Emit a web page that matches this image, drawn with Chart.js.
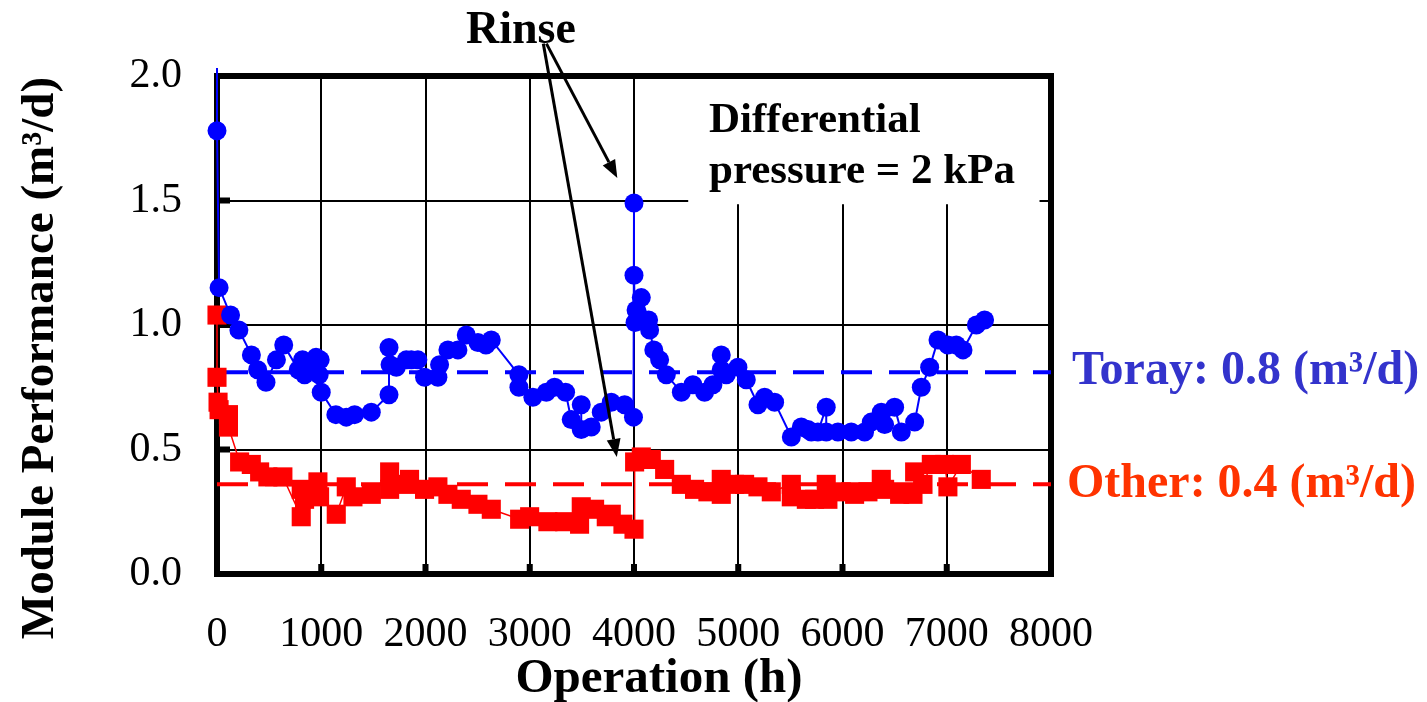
<!DOCTYPE html>
<html>
<head>
<meta charset="utf-8">
<script src="https://cdn.jsdelivr.net/npm/chart.js@4.4.1/dist/chart.umd.min.js"></script>
<style>
  body { margin: 0; background: #fff; }
  #wrap { width: 1427px; height: 702px; }
</style>
</head>
<body>
<div id="wrap"><canvas id="perf" width="1427" height="702"></canvas></div>
<script>
// Toray module: operating hours vs module performance (m3/d)
const torayHours = [0, 0, 20, 130, 210, 330, 390, 470, 570, 640, 780, 820, 840, 900, 950, 980, 990, 1000,
  1140, 1240, 1320, 1480, 1650, 1650, 1660, 1720, 1816, 1864, 1927, 1991, 2119, 2135, 2215, 2311, 2391,
  2503, 2580, 2631, 2896, 2896, 3030, 3159, 3238, 3344, 3398, 3494, 3494, 3590, 3686, 3782, 3910, 3995,
  4000, 4000, 4010, 4020, 4070, 4140, 4150, 4190, 4246, 4310, 4454, 4565, 4677, 4757, 4837, 4837, 4885,
  4997, 5077, 5189, 5253, 5349, 5509, 5605, 5668, 5701, 5764, 5844, 5844, 5956, 6084, 6212, 6276, 6372,
  6404, 6500, 6564, 6692, 6756, 6836, 6916, 7011, 7092, 7156, 7284, 7363];
const torayFlow = [2.3, 1.78, 1.15, 1.04, 0.98, 0.88, 0.82, 0.77, 0.86, 0.92, 0.82, 0.86, 0.80, 0.84, 0.87, 0.80, 0.86, 0.73,
  0.64, 0.63, 0.64, 0.65, 0.72, 0.91, 0.84, 0.83, 0.86, 0.86, 0.86, 0.79, 0.79, 0.84, 0.90, 0.90, 0.96,
  0.93, 0.92, 0.94, 0.80, 0.75, 0.71, 0.73, 0.75, 0.73, 0.62, 0.68, 0.58, 0.59, 0.65, 0.69, 0.68, 0.63,
  1.49, 1.20, 1.01, 1.06, 1.11, 1.02, 0.98, 0.90, 0.86, 0.80, 0.73, 0.76, 0.73, 0.76, 0.88, 0.82, 0.80,
  0.83, 0.78, 0.68, 0.71, 0.69, 0.55, 0.59, 0.58, 0.57, 0.57, 0.67, 0.57, 0.57, 0.57, 0.57, 0.61, 0.65,
  0.60, 0.67, 0.57, 0.61, 0.75, 0.83, 0.94, 0.92, 0.92, 0.90, 1.00, 1.02];

// other maker's module
const otherHours = [0, 0, 10, 20, 110, 110, 217, 329, 409, 488, 632, 808, 808, 840, 968, 984, 1144, 1240,
  1304, 1480, 1656, 1656, 1816, 1847, 1991, 2119, 2215, 2343, 2503, 2631, 2903, 2999, 3174, 3334, 3478,
  3494, 3622, 3734, 3782, 3894, 4000, 4006, 4070, 4166, 4294, 4454, 4581, 4709, 4837, 4837, 4965, 5061,
  5189, 5317, 5509, 5509, 5653, 5732, 5844, 5860, 5988, 6116, 6244, 6372, 6404, 6548, 6676, 6692, 6772,
  6852, 6980, 7011, 7140, 7331];
const otherFlow = [1.04, 0.79, 0.69, 0.66, 0.64, 0.59, 0.45, 0.44, 0.41, 0.39, 0.39, 0.23, 0.34, 0.30, 0.37, 0.31, 0.24, 0.35,
  0.31, 0.32, 0.41, 0.34, 0.36, 0.38, 0.34, 0.35, 0.32, 0.30, 0.28, 0.26, 0.22, 0.23, 0.21, 0.21, 0.20,
  0.27, 0.26, 0.23, 0.24, 0.20, 0.18, 0.45, 0.47, 0.46, 0.42, 0.36, 0.34, 0.33, 0.38, 0.32, 0.36, 0.36,
  0.35, 0.33, 0.36, 0.31, 0.30, 0.30, 0.36, 0.30, 0.33, 0.32, 0.33, 0.38, 0.34, 0.32, 0.32, 0.41, 0.36,
  0.44, 0.44, 0.35, 0.44, 0.38];

// average performance lines
const torayAvg = 0.81;
const otherAvg = 0.36;
const hourRange = [0, 8000];

const serif = '"Liberation Serif", "Times New Roman", serif';

function pts(xs, ys) {
  return xs.map((x, i) => ({ x: x, y: ys[i] }));
}

function arrow(ctx, x1, y1, x2, y2) {
  const ang = Math.atan2(y2 - y1, x2 - x1);
  const len = 18, half = 7;
  const bx = x2 - len * Math.cos(ang), by = y2 - len * Math.sin(ang);
  ctx.beginPath();
  ctx.moveTo(x1, y1);
  ctx.lineTo(bx, by);
  ctx.stroke();
  ctx.beginPath();
  ctx.moveTo(x2, y2);
  ctx.lineTo(bx + half * Math.sin(ang), by - half * Math.cos(ang));
  ctx.lineTo(bx - half * Math.sin(ang), by + half * Math.cos(ang));
  ctx.closePath();
  ctx.fill();
}

const decor = {
  id: 'decor',
  beforeDatasetsDraw(chart) {
    const { ctx, chartArea: a, scales: { x, y } } = chart;
    ctx.save();
    // blank patch behind the condition note
    const bx1 = x.getPixelForValue(4520), bx2 = x.getPixelForValue(7890);
    ctx.fillStyle = '#fff';
    ctx.fillRect(bx1, a.top, bx2 - bx1, y.getPixelForValue(1.485) - a.top);
    // inner tick marks
    ctx.fillStyle = '#000';
    for (let v = 1000; v < 8000; v += 1000) {
      ctx.fillRect(x.getPixelForValue(v) - 3, a.bottom - 10, 6, 10);
    }
    for (let v = 0.5; v < 2; v += 0.5) {
      ctx.fillRect(a.left, y.getPixelForValue(v) - 3, 13, 6);
    }
    // plot frame
    ctx.strokeStyle = '#000';
    ctx.lineWidth = 6;
    ctx.strokeRect(a.left, a.top, a.right - a.left, a.bottom - a.top);
    ctx.restore();
  },
  afterDraw(chart) {
    const { ctx, chartArea: a, scales: { x, y } } = chart;
    ctx.save();
    ctx.fillStyle = '#000';
    ctx.textBaseline = 'alphabetic';

    // axis titles
    ctx.font = 'bold 49px ' + serif;
    ctx.textAlign = 'center';
    ctx.fillText('Operation (h)', 659, 692);
    ctx.save();
    ctx.translate(53, 358);
    ctx.rotate(-Math.PI / 2);
    ctx.font = 'bold 47px ' + serif;
    ctx.fillText('Module Performance (m³/d)', 0, 0);
    ctx.restore();

    // test condition
    ctx.textAlign = 'left';
    ctx.font = 'bold 43px ' + serif;
    ctx.fillText('Differential', 709, 132);
    ctx.fillText('pressure = 2 kPa', 709, 183);

    // rinse annotation
    ctx.font = 'bold 46px ' + serif;
    ctx.fillText('Rinse', 466, 43);
    ctx.lineWidth = 3;
    ctx.strokeStyle = '#000';
    arrow(ctx, x.getPixelForValue(3160), y.getPixelForValue(2.13),
      x.getPixelForValue(3840), y.getPixelForValue(1.59));
    arrow(ctx, x.getPixelForValue(3130), y.getPixelForValue(2.13),
      x.getPixelForValue(3835), y.getPixelForValue(0.47));

    // average labels
    ctx.font = 'bold 48px ' + serif;
    ctx.fillStyle = '#3333cc';
    ctx.fillText('Toray: ' + torayAvg.toFixed(1) + ' (m³/d)', a.right + 21, y.getPixelForValue(torayAvg) + 12);
    ctx.fillStyle = '#ff3300';
    ctx.fillText('Other: ' + otherAvg.toFixed(1) + ' (m³/d)', a.right + 16, y.getPixelForValue(otherAvg) + 13);
    ctx.restore();
  }
};

new Chart(document.getElementById('perf'), {
  type: 'line',
  data: {
    datasets: [
      {
        label: 'Toray',
        data: pts(torayHours, torayFlow),
        borderColor: '#0000ff',
        backgroundColor: '#0000ff',
        borderWidth: 2,
        pointStyle: 'circle',
        pointRadius: 9.5,
        pointBorderWidth: 0,
        clip: { left: 14, top: 8, right: 14, bottom: 14 },
        order: 1
      },
      {
        label: 'Other',
        data: pts(otherHours, otherFlow),
        borderColor: '#ff0000',
        backgroundColor: '#ff0000',
        borderWidth: 1.5,
        pointStyle: 'rect',
        pointRadius: 13.5,
        pointBorderWidth: 0,
        clip: { left: 14, top: 14, right: 14, bottom: 14 },
        order: 2
      },
      {
        label: 'Toray average',
        data: pts(hourRange, [torayAvg, torayAvg]),
        borderColor: '#0000ff',
        borderWidth: 4,
        borderDash: [31, 17],
        pointRadius: 0,
        order: 3
      },
      {
        label: 'Other average',
        data: pts(hourRange, [otherAvg, otherAvg]),
        borderColor: '#ff0000',
        borderWidth: 4,
        borderDash: [31, 17],
        pointRadius: 0,
        order: 4
      }
    ]
  },
  options: {
    responsive: false,
    animation: false,
    layout: { padding: { top: 76, right: 376, left: 0, bottom: 0 } },
    plugins: { legend: { display: false }, tooltip: { enabled: false } },
    scales: {
      x: {
        type: 'linear',
        min: 0,
        max: 8000,
        afterFit: (s) => { s.height = 128; },
        border: { display: false },
        grid: { color: '#000', lineWidth: 2, drawTicks: false },
        ticks: {
          stepSize: 1000,
          padding: 36,
          color: '#000',
          font: { family: serif, size: 42 },
          callback: (v) => String(v)
        }
      },
      y: {
        min: 0,
        max: 2,
        afterFit: (s) => { s.width = 217; },
        border: { display: false },
        grid: { color: '#000', lineWidth: 2, drawTicks: false },
        ticks: {
          stepSize: 0.5,
          padding: 35,
          color: '#000',
          font: { family: serif, size: 42 },
          callback: (v) => v.toFixed(1)
        }
      }
    }
  },
  plugins: [decor]
});
</script>
</body>
</html>
